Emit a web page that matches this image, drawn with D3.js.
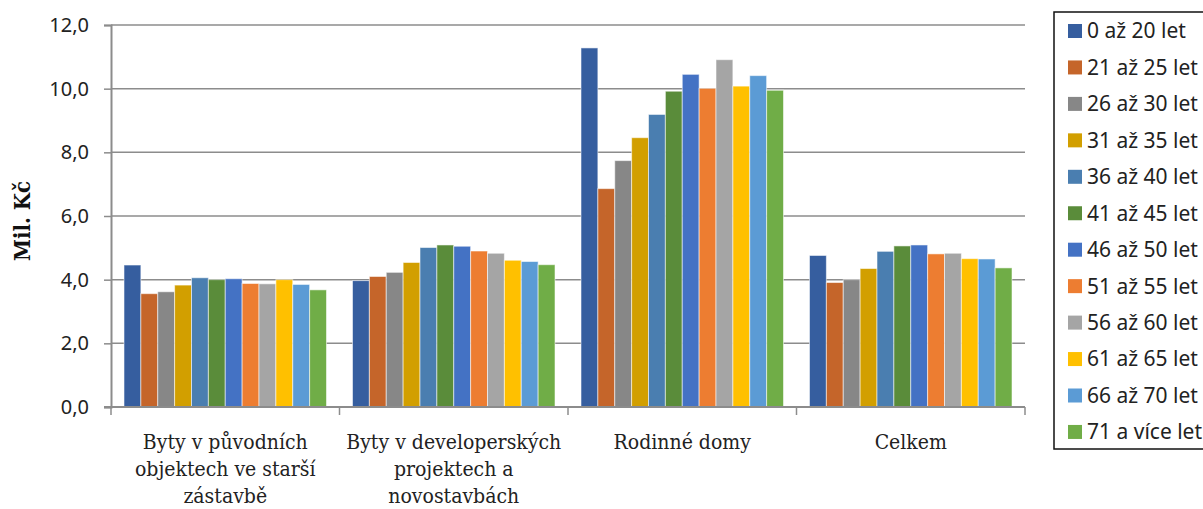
<!DOCTYPE html>
<html>
<head>
<meta charset="utf-8">
<script src="https://cdn.jsdelivr.net/npm/d3@7/dist/d3.min.js"></script>
<style>
  html, body { margin: 0; padding: 0; background: #fff; }
  svg { display: block; }
</style>
</head>
<body>
<svg id="chart" width="1203" height="509"></svg>
<script>
// Categories (property types), split into display lines
const categories = ["Byty v původních objektech ve starší zástavbě", "Byty v developerských projektech a novostavbách", "Rodinné domy", "Celkem"];
const categoryLines = [
  ["Byty v původních", "objektech ve starší", "zástavbě"],
  ["Byty v developerských", "projektech a", "novostavbách"],
  ["Rodinné domy"],
  ["Celkem"]
];

// Age groups (series)
const ageGroups = ["0 až 20 let", "21 až 25 let", "26 až 30 let", "31 až 35 let", "36 až 40 let", "41 až 45 let",
                   "46 až 50 let", "51 až 55 let", "56 až 60 let", "61 až 65 let", "66 až 70 let", "71 a více let"];

// Average price in mil. Kč per age group, one array per category
const bytyPuvodni   = [4.46, 3.56, 3.62, 3.83, 4.06, 4.00, 4.03, 3.88, 3.87, 4.00, 3.85, 3.68];
const bytyDeveloper = [3.97, 4.10, 4.23, 4.54, 5.01, 5.09, 5.05, 4.90, 4.83, 4.61, 4.57, 4.47];
const rodinneDomy   = [11.28, 6.86, 7.74, 8.46, 9.19, 9.92, 10.45, 10.01, 10.91, 10.08, 10.41, 9.95];
const celkem        = [4.76, 3.91, 4.00, 4.35, 4.89, 5.06, 5.09, 4.81, 4.83, 4.66, 4.65, 4.37];
const seriesByCategory = [bytyPuvodni, bytyDeveloper, rodinneDomy, celkem];

const yTicks = [0, 2, 4, 6, 8, 10, 12];

const colors = ["#365E9F", "#C5652A", "#878787", "#D29F00", "#4A7EB0", "#5A8C3A",
                "#4472C4", "#ED7D31", "#A5A5A5", "#FFC000", "#5B9BD5", "#70AD47"];

const svg = d3.select("#chart");
const sansFont = "'Noto Sans', 'Open Sans', sans-serif";
const serifFont = "'DejaVu Serif Condensed', 'DejaVu Serif', serif";

const plot = { left: 111, right: 1025, top: 25, bottom: 407 };

const x0 = d3.scaleBand().domain(categories).range([plot.left, plot.right]).paddingInner(0).paddingOuter(0);
const x1 = d3.scaleBand().domain(ageGroups).range([0, x0.bandwidth()]).paddingInner(0).paddingOuter(0.77);
const y = d3.scaleLinear().domain([0, 12]).range([plot.bottom, plot.top]);
const color = d3.scaleOrdinal().domain(ageGroups).range(colors);

// Horizontal gridlines
svg.append("g")
  .selectAll("line")
  .data(yTicks.filter(t => t > 0))
  .join("line")
  .attr("x1", plot.left).attr("x2", plot.right)
  .attr("y1", d => y(d)).attr("y2", d => y(d))
  .attr("stroke", "#8c8c8c").attr("stroke-width", 1.5);

// Bars
const groups = svg.append("g")
  .selectAll("g")
  .data(categories)
  .join("g")
  .attr("transform", d => `translate(${x0(d)},0)`);

groups.selectAll("rect")
  .data((d, i) => seriesByCategory[i].map((v, j) => ({ key: ageGroups[j], value: v })))
  .join("rect")
  .attr("x", d => x1(d.key))
  .attr("width", x1.bandwidth())
  .attr("y", d => y(d.value))
  .attr("height", d => y(0) - y(d.value))
  .attr("fill", d => color(d.key))
  .attr("stroke", "rgba(255,255,255,0.55)")
  .attr("stroke-width", 1);

// Y axis
const yAxis = d3.axisLeft(y)
  .tickValues(yTicks)
  .tickSize(7)
  .tickPadding(15)
  .tickFormat(d => d3.format(".1f")(d).replace(".", ","));

const yg = svg.append("g").attr("transform", `translate(${plot.left},0)`).call(yAxis);
yg.select(".domain").attr("stroke", "#8c8c8c").attr("stroke-width", 2);
yg.selectAll(".tick line").attr("stroke", "#8c8c8c").attr("stroke-width", 1.5);
yg.selectAll(".tick text")
  .attr("font-family", sansFont).attr("font-size", 20).attr("fill", "#222");

// X axis line with category boundary ticks
svg.append("line")
  .attr("x1", plot.left - 7).attr("x2", plot.right)
  .attr("y1", y(0)).attr("y2", y(0))
  .attr("stroke", "#8c8c8c").attr("stroke-width", 2);

const boundaries = categories.map(c => x0(c)).concat([x0(categories[categories.length - 1]) + x0.bandwidth()]);
svg.append("g")
  .selectAll("line")
  .data(boundaries)
  .join("line")
  .attr("x1", d => d).attr("x2", d => d)
  .attr("y1", y(0)).attr("y2", y(0) + 8)
  .attr("stroke", "#8c8c8c").attr("stroke-width", 1.5);

// Category labels
const labels = svg.append("g")
  .selectAll("text")
  .data(categories)
  .join("text")
  .attr("text-anchor", "middle")
  .attr("font-family", serifFont)
  .attr("font-size", 21)
  .attr("fill", "#222")
  .attr("transform", d => `translate(${x0(d) + x0.bandwidth() / 2},449)`);

labels.each(function (d, i) {
  d3.select(this).selectAll("tspan")
    .data(categoryLines[i])
    .join("tspan")
    .attr("x", 0)
    .attr("dy", (t, k) => k === 0 ? 0 : 27)
    .text(t => t);
});

// Y axis title
svg.append("text")
  .attr("transform", "translate(30,221) rotate(-90)")
  .attr("text-anchor", "middle")
  .attr("font-family", serifFont)
  .attr("font-weight", "bold")
  .attr("font-size", 22)
  .attr("fill", "#111")
  .text("Mil. Kč");

// Legend
const legend = svg.append("g").attr("transform", "translate(1054,12)");
legend.append("rect")
  .attr("x", 0).attr("y", 0)
  .attr("width", 170).attr("height", 437)
  .attr("fill", "#fff")
  .attr("stroke", "#111").attr("stroke-width", 1.5);

const items = legend.selectAll("g.item")
  .data(ageGroups)
  .join("g")
  .attr("class", "item")
  .attr("transform", (d, i) => `translate(14,${19 + i * 36.45})`);

items.append("rect")
  .attr("x", 0).attr("y", -7)
  .attr("width", 14).attr("height", 14)
  .attr("fill", d => color(d));

items.append("text")
  .attr("x", 19).attr("y", 0)
  .attr("dy", "0.35em")
  .attr("font-family", sansFont)
  .attr("font-size", 21)
  .attr("fill", "#222")
  .text(d => d);
</script>
</body>
</html>
